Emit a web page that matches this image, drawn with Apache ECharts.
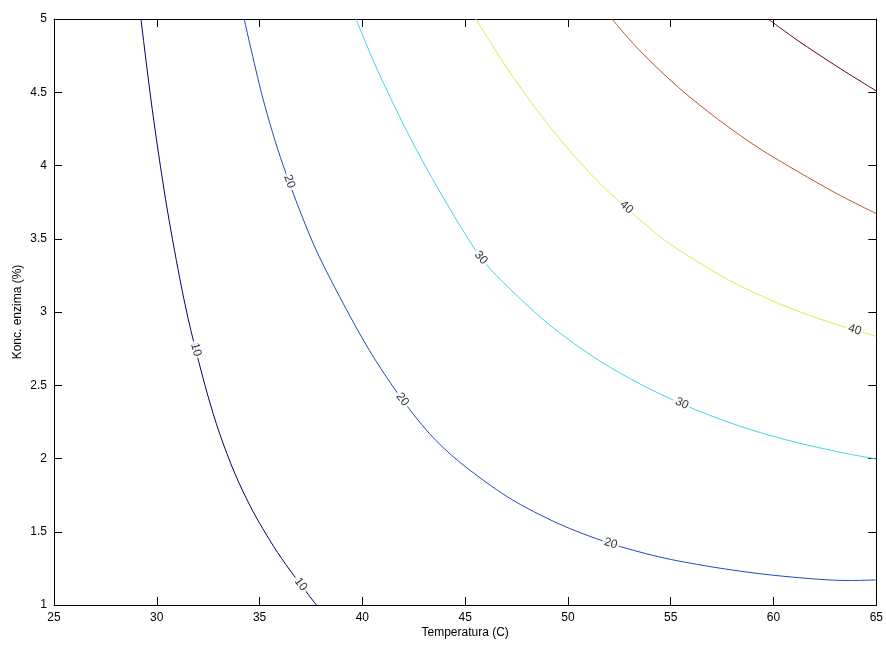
<!DOCTYPE html>
<html>
<head>
<meta charset="utf-8">
<script src="https://cdn.jsdelivr.net/npm/echarts@6/dist/echarts.min.js"></script>
<style>
  html, body { margin: 0; padding: 0; background: #fff; }
  #chart { width: 886px; height: 645px; }
</style>
</head>
<body>
<div id="chart"></div>
<script>
// Contour levels of the response surface (yield vs. temperature and enzyme concentration)
const levels = [10, 20, 30, 40, 50, 60];

// Contour paths: temperature (C) and enzyme concentration (%)
const c10T = [29.23, 29.78, 30.43, 31.13, 31.65, 32.45, 33.05, 33.79, 34.64, 35.69, 36.47, 37.76];
const c10C = [5.000, 4.382, 3.767, 3.220, 2.879, 2.446, 2.173, 1.900, 1.649, 1.398, 1.239, 1.000];

const c20T = [34.25, 35.17, 36.14, 37.60, 38.89, 40.35, 41.80, 43.25, 44.71, 47.13, 49.56, 51.98, 54.41, 56.83, 59.25, 61.68, 63.62, 65.00];
const c20C = [5.000, 4.453, 4.003, 3.470, 3.105, 2.736, 2.429, 2.172, 1.978, 1.732, 1.554, 1.424, 1.329, 1.264, 1.215, 1.181, 1.167, 1.171];

const c30T = [39.69, 40.65, 42.20, 43.80, 45.71, 46.79, 49.07, 51.50, 53.92, 56.35, 58.77, 61.19, 63.62, 65.00];
const c30C = [5.000, 4.678, 4.223, 3.813, 3.380, 3.211, 2.916, 2.670, 2.479, 2.325, 2.202, 2.107, 2.032, 1.997];

const c40T = [45.52, 46.97, 48.59, 50.20, 51.82, 54.25, 55.38, 57.80, 60.22, 62.65, 65.00];
const c40C = [5.000, 4.678, 4.360, 4.082, 3.841, 3.540, 3.425, 3.220, 3.060, 2.933, 2.834];

const c50T = [52.14, 53.44, 55.38, 57.32, 59.25, 61.19, 63.13, 65.00];
const c50C = [5.000, 4.792, 4.532, 4.313, 4.122, 3.958, 3.804, 3.671];

const c60T = [59.74, 61.19, 63.13, 65.00];
const c60C = [5.000, 4.852, 4.672, 4.509];

// Temperatures at which each contour carries its inline value label
const label10T = [31.90, 37.0];
const label20T = [36.45, 41.95, 52.08];
const label30T = [45.77, 55.54];
const label40T = [52.84, 63.95];
const label50T = [];
const label60T = [];

// Axis ticks
const xTicks = [25, 30, 35, 40, 45, 50, 55, 60, 65];
const yTicks = [1, 1.5, 2, 2.5, 3, 3.5, 4, 4.5, 5];

// Jet-style line colours per level
const levelColors = ['#00006f', '#2248c0', '#40d6e6', '#e6e64c', '#c4502c', '#5c0808'];

const paths = [
  [c10T, c10C, label10T],
  [c20T, c20C, label20T],
  [c30T, c30C, label30T],
  [c40T, c40C, label40T],
  [c50T, c50C, label50T],
  [c60T, c60C, label60T]
];

const font = 'Liberation Sans, Arial, sans-serif';
const chart = echarts.init(document.getElementById('chart'), null, { renderer: 'canvas' });

function zipPts(ts, cs) { return ts.map((t, i) => [t, cs[i]]); }

// Locate a label on its contour path: segment index and concentration at temperature t
function onPath(ts, cs, t) {
  for (let i = 0; i < ts.length - 1; i++) {
    if (t >= ts[i] && t <= ts[i + 1]) {
      const f = (t - ts[i]) / (ts[i + 1] - ts[i]);
      return { i: i, c: cs[i] + f * (cs[i + 1] - cs[i]) };
    }
  }
  return { i: ts.length - 2, c: cs[cs.length - 1] };
}

const axisCommon = {
  type: 'value',
  axisLine: { show: true, onZero: false, lineStyle: { color: '#000', width: 1 } },
  axisTick: { show: true, inside: true, length: 8, lineStyle: { color: '#000' } },
  splitLine: { show: false }
};

function buildOption(labelRot) {
  const series = [];
  paths.forEach((p, k) => {
    series.push({
      type: 'line',
      name: String(levels[k]),
      data: zipPts(p[0], p[1]),
      showSymbol: false,
      smooth: 0.3,
      clip: true,
      silent: true,
      z: 2,
      lineStyle: { color: levelColors[k], width: 1 }
    });
  });
  paths.forEach((p, k) => {
    if (!p[2].length) return;
    series.push({
      type: 'scatter',
      data: p[2].map((t, j) => {
        const loc = onPath(p[0], p[1], t);
        return {
          value: [t, loc.c],
          label: { rotate: labelRot ? labelRot[k][j] : 0 }
        };
      }),
      symbolSize: 0,
      silent: true,
      z: 5,
      label: {
        show: true,
        position: 'inside',
        formatter: String(levels[k]),
        color: '#000',
        fontFamily: font,
        fontSize: 12,
        backgroundColor: '#fff',
        padding: [0, 2]
      }
    });
  });
  return {
    animation: false,
    backgroundColor: '#fff',
    grid: { left: 54, right: 8, top: 19, bottom: 40 },
    xAxis: [
      Object.assign({}, axisCommon, {
        position: 'bottom', min: xTicks[0], max: xTicks[xTicks.length - 1], interval: 5,
        name: 'Temperatura (C)', nameLocation: 'middle', nameGap: 22, nameMoveOverlap: false,
        nameTextStyle: { color: '#000', fontFamily: font, fontSize: 12 },
        axisLabel: { color: '#000', fontFamily: font, fontSize: 12, margin: 7 }
      }),
      Object.assign({}, axisCommon, {
        position: 'top', min: xTicks[0], max: xTicks[xTicks.length - 1], interval: 5,
        axisLabel: { show: false }
      })
    ],
    yAxis: [
      Object.assign({}, axisCommon, {
        position: 'left', min: yTicks[0], max: yTicks[yTicks.length - 1], interval: 0.5,
        name: 'Konc. enzima (%)', nameLocation: 'middle', nameGap: 30, nameMoveOverlap: false,
        nameTextStyle: { color: '#000', fontFamily: font, fontSize: 12 },
        axisLabel: { color: '#000', fontFamily: font, fontSize: 12, margin: 7 }
      }),
      Object.assign({}, axisCommon, {
        position: 'right', min: yTicks[0], max: yTicks[yTicks.length - 1], interval: 0.5,
        axisLabel: { show: false }
      })
    ],
    series: series
  };
}

chart.setOption(buildOption(null));

// Align each value label with the local direction of its contour
const rots = paths.map(p => p[2].map(t => {
  const loc = onPath(p[0], p[1], t);
  const a = chart.convertToPixel({ gridIndex: 0 }, [p[0][loc.i], p[1][loc.i]]);
  const b = chart.convertToPixel({ gridIndex: 0 }, [p[0][loc.i + 1], p[1][loc.i + 1]]);
  const ang = Math.atan2(b[1] - a[1], b[0] - a[0]) * 180 / Math.PI;
  return -ang;
}));
chart.setOption(buildOption(rots));
</script>
</body>
</html>
